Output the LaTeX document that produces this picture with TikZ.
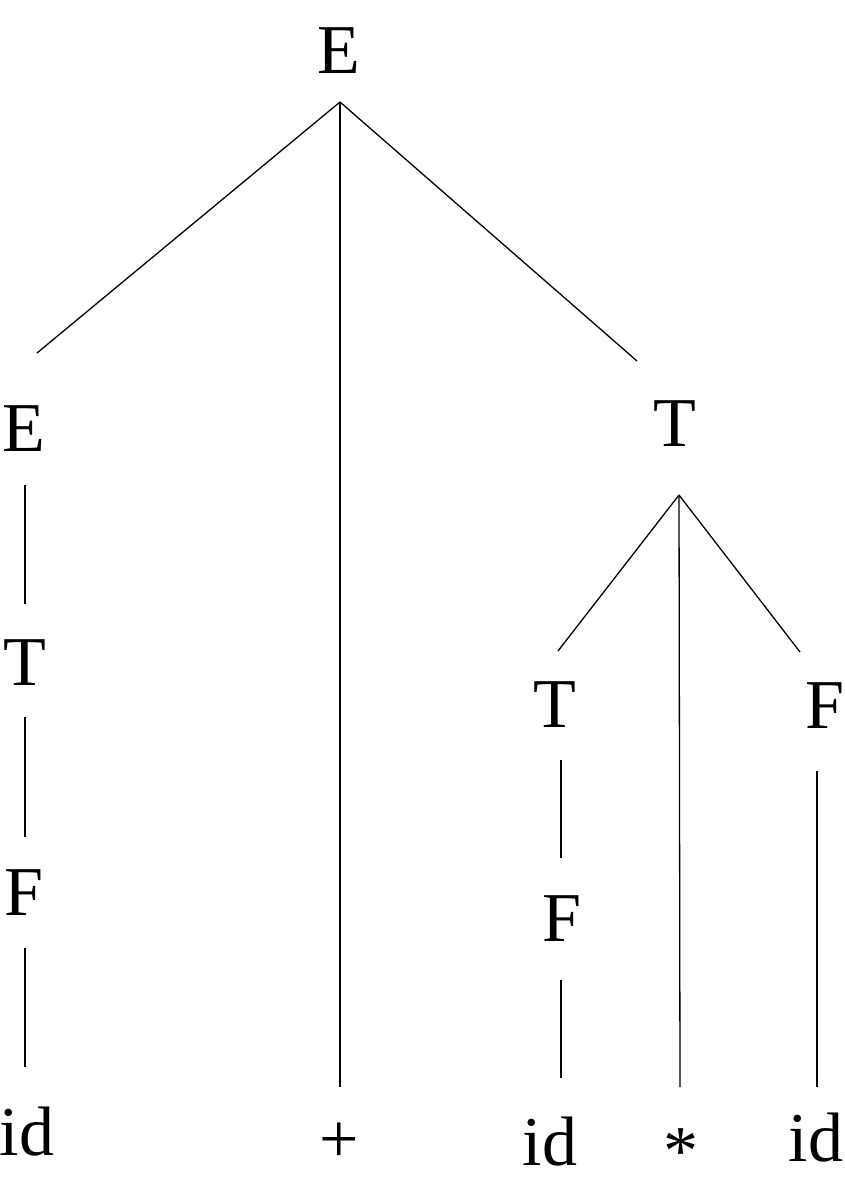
\documentclass[tikz,border=0pt]{standalone}
\usepackage{fontspec}
\setmainfont{Liberation Serif}
\begin{document}
\begin{tikzpicture}[x=1pt,y=-1pt,
  lbl/.style={inner sep=0pt, anchor=north, font=\fontsize{70}{70}\selectfont},
  edge/.style={line width=1.3pt, line cap=butt}]
\useasboundingbox (0,0) rectangle (844,1198);
% labels
\node[lbl] (E0) at (339,27) {E};
\node[lbl] (E1) at (24,405) {E};
\node[lbl] (T1) at (25,639) {T};
\node[lbl] (F1) at (24,869) {F};
\node[lbl] (id1) at (27,1107) {id};
\node[lbl] (plus) at (339,1123) {+};
\node[lbl] (T2) at (675,400) {T};
\node[lbl] (T3) at (555,681) {T};
\node[lbl] (F3) at (562,895) {F};
\node[lbl] (id3) at (550,1117) {id};
\node[lbl] (star) at (681,1128) {*};
\node[lbl] (F2) at (825,682) {F};
\node[lbl] (id2) at (816,1113) {id};
% connector end points
\coordinate (E0b) at (340,102);
\coordinate (E1t) at (37,353);
\coordinate (E1b) at (25,485);
\coordinate (T1t) at (25,604);
\coordinate (T1b) at (25,717);
\coordinate (F1t) at (25,837);
\coordinate (F1b) at (25,948);
\coordinate (id1t) at (25,1067);
\coordinate (plust) at (340,1087);
\coordinate (T2t) at (637,361);
\coordinate (T2b) at (679,495);
\coordinate (T3t) at (558,651);
\coordinate (T3b) at (561,760);
\coordinate (F3t) at (561,858);
\coordinate (F3b) at (561,980);
\coordinate (id3t) at (561,1078);
\coordinate (start) at (680,1087);
\coordinate (F2t) at (800,652);
\coordinate (F2b) at (817,771);
\coordinate (id2t) at (817,1087);
% connectors
\draw[edge] (E0b) -- (E1t);
\draw[edge] (E0b) -- (plust);
\draw[edge] (E0b) -- (T2t);
\draw[edge] (E1b) -- (T1t);
\draw[edge] (T1b) -- (F1t);
\draw[edge] (F1b) -- (id1t);
\draw[edge] (T2b) -- (T3t);
\draw[edge] (T2b) -- (start);
\draw[edge] (T2b) -- (F2t);
\draw[edge] (T3b) -- (F3t);
\draw[edge] (F3b) -- (id3t);
\draw[edge] (F2b) -- (id2t);
\end{tikzpicture}
\end{document}
